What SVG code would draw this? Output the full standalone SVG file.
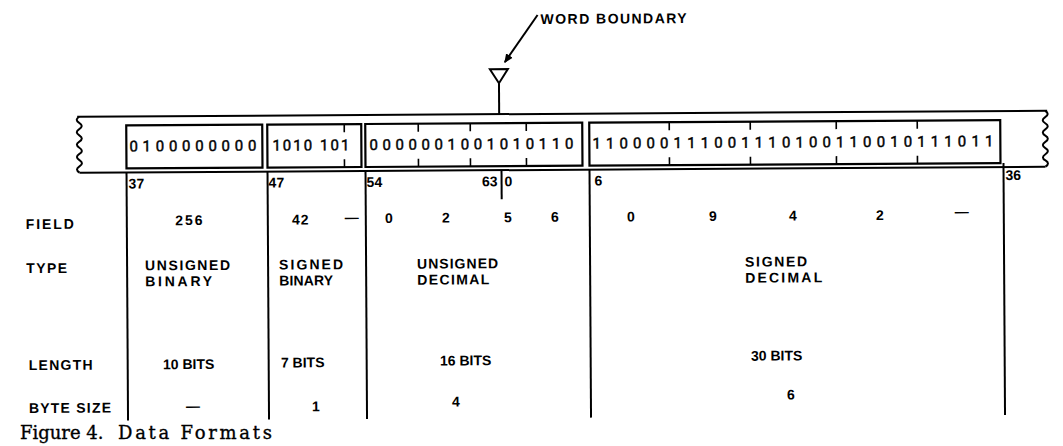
<svg xmlns="http://www.w3.org/2000/svg" width="1063" height="446" viewBox="0 0 1063 446">
<style>
.ln{stroke:#000;stroke-width:2;fill:none}
.bx{stroke:#000;stroke-width:2.2;fill:none}
.tk{stroke:#000;stroke-width:1.6}
.lb{font-family:"Liberation Sans","DejaVu Sans",sans-serif;font-weight:bold;font-size:14px;fill:#000}
.v{font-family:"Liberation Sans","DejaVu Sans",sans-serif;font-weight:bold;font-size:14px;fill:#000;text-anchor:middle}
.bits{font-family:Roboto,"DejaVu Sans",sans-serif;font-size:15px;fill:#000;stroke:#000;stroke-width:0.45}
.cap{font-family:"DejaVu Serif","Liberation Serif",serif;font-size:18px;fill:#000;stroke:#000;stroke-width:0.35}
</style>
<defs>
<marker id="ah" markerWidth="10" markerHeight="10" refX="8" refY="5" orient="auto" markerUnits="userSpaceOnUse">
<path d="M0,1 L9,5 L0,9 Z" fill="#000"/>
</marker>
</defs>
<rect width="1063" height="446" fill="#fff"/>
<g transform="rotate(-0.35 530 250)">
<g id="word-boundary">
<text class="lb" x="542" y="24" textLength="146">WORD  BOUNDARY</text>
<path class="ln" d="M491,69 L509,69 L500,83 Z" stroke-width="1.8"/>
<line class="ln" x1="500" y1="83" x2="500" y2="114"/>
</g>
<g id="connectors">
<line class="ln" x1="539" y1="15" x2="506" y2="62" stroke-width="1.8" marker-end="url(#ah)"/>
</g>
<g id="band">
<line class="ln" x1="78" y1="114" x2="1048" y2="114"/>
<line class="ln" x1="80" y1="170" x2="1046" y2="170"/>
<path class="ln" d="M80,114 q-5,3 0,6.2 t0,6.2 t0,6.2 t0,6.2 t0,6.2 t0,6.2 t0,6.2 t0,6.2 t0,6.2"/>
<path class="ln" d="M1046,114 q5,3 0,6.2 t0,6.2 t0,6.2 t0,6.2 t0,6.2 t0,6.2 t0,6.2 t0,6.2 t0,6.2"/>
</g>
<g id="box-unsigned-binary">
<rect class="bx" x="127" y="123" width="136" height="43"/>
<text class="bits" x="130" y="149" textLength="127" lengthAdjust="spacing">0100000000</text>
<text class="lb" x="129" y="186">37</text>
</g>
<g id="box-signed-binary">
<rect class="bx" x="268" y="123" width="94" height="43"/>
<text class="bits" x="273" y="149" textLength="77" lengthAdjust="spacing">1010 101</text>
<line class="tk" x1="345" y1="123" x2="345" y2="131"/>
<line class="tk" x1="345" y1="158" x2="345" y2="166"/>
<text class="lb" x="269" y="186">47</text>
</g>
<g id="box-unsigned-decimal">
<rect class="bx" x="366" y="123" width="217" height="43"/>
<text class="bits" x="370" y="149" textLength="204" lengthAdjust="spacing">0000001001010110</text>
<line class="tk" x1="419" y1="123" x2="419" y2="131"/>
<line class="tk" x1="419" y1="158" x2="419" y2="166"/>
<line class="tk" x1="471" y1="123" x2="471" y2="131"/>
<line class="tk" x1="471" y1="158" x2="471" y2="166"/>
<line class="tk" x1="527" y1="123" x2="527" y2="131"/>
<line class="tk" x1="527" y1="158" x2="527" y2="166"/>
<text class="lb" x="367" y="186">54</text>
<text class="lb" x="498" y="186" text-anchor="end">63</text>
<text class="lb" x="505" y="186">0</text>
</g>
<g id="box-signed-decimal">
<rect class="bx" x="590" y="123" width="411" height="43"/>
<text class="bits" x="593" y="149" textLength="401" lengthAdjust="spacing">110000111001110100110010111011</text>
<line class="tk" x1="670" y1="123" x2="670" y2="131"/>
<line class="tk" x1="670" y1="158" x2="670" y2="166"/>
<line class="tk" x1="751" y1="123" x2="751" y2="131"/>
<line class="tk" x1="751" y1="158" x2="751" y2="166"/>
<line class="tk" x1="837" y1="123" x2="837" y2="131"/>
<line class="tk" x1="837" y1="158" x2="837" y2="166"/>
<line class="tk" x1="918" y1="123" x2="918" y2="131"/>
<line class="tk" x1="918" y1="158" x2="918" y2="166"/>
<text class="lb" x="595" y="186">6</text>
<text class="lb" x="1006" y="183">36</text>
</g>
<g id="dividers">
<line class="ln" x1="127" y1="170" x2="127" y2="418"/>
<line class="ln" x1="268" y1="170" x2="268" y2="418"/>
<line class="ln" x1="366" y1="170" x2="366" y2="418"/>
<line class="ln" x1="502" y1="170" x2="502" y2="199"/>
<line class="ln" x1="590" y1="170" x2="590" y2="418"/>
<line class="ln" x1="1004" y1="166" x2="1004" y2="418"/>
</g>
<g id="row-labels">
<text class="lb" x="26" y="226" textLength="48">FIELD</text>
<text class="lb" x="26" y="270" textLength="41">TYPE</text>
<text class="lb" x="28" y="367" textLength="64">LENGTH</text>
<text class="lb" x="28" y="410" textLength="82">BYTE SIZE</text>
</g>
<g id="col-unsigned-binary">
<text class="v" x="190" y="223" letter-spacing="2">256</text>
<text class="lb" x="145" y="268" textLength="85">UNSIGNED</text>
<text class="lb" x="145" y="284" textLength="67">BINARY</text>
<text class="v" x="188" y="367">10 BITS</text>
<text class="v" x="192" y="409">—</text>
</g>
<g id="col-signed-binary">
<text class="v" x="301" y="223" letter-spacing="1">42</text>
<text class="v" x="352" y="221">—</text>
<text class="lb" x="279" y="268" textLength="64">SIGNED</text>
<text class="lb" x="279" y="284" textLength="54">BINARY</text>
<text class="v" x="302" y="366">7 BITS</text>
<text class="v" x="315" y="410">1</text>
</g>
<g id="col-unsigned-decimal">
<text class="v" x="389" y="222">0</text>
<text class="v" x="446" y="222">2</text>
<text class="v" x="508" y="222">5</text>
<text class="v" x="555" y="222">6</text>
<text class="lb" x="417" y="268" textLength="81">UNSIGNED</text>
<text class="lb" x="417" y="284" textLength="72">DECIMAL</text>
<text class="v" x="465" y="365">16 BITS</text>
<text class="v" x="455" y="406">4</text>
</g>
<g id="col-signed-decimal">
<text class="v" x="631" y="222">0</text>
<text class="v" x="713" y="222">9</text>
<text class="v" x="793" y="222">4</text>
<text class="v" x="880" y="222">2</text>
<text class="v" x="962" y="219">—</text>
<text class="lb" x="745" y="268" textLength="62">SIGNED</text>
<text class="lb" x="745" y="284" textLength="77">DECIMAL</text>
<text class="v" x="776" y="362">30 BITS</text>
<text class="v" x="790" y="401">6</text>
</g>
</g>
<g id="caption">
<text class="cap" x="20" y="439">Figure 4.</text>
<text class="cap" x="118" y="439" textLength="154">Data Formats</text>
</g>
</svg>
